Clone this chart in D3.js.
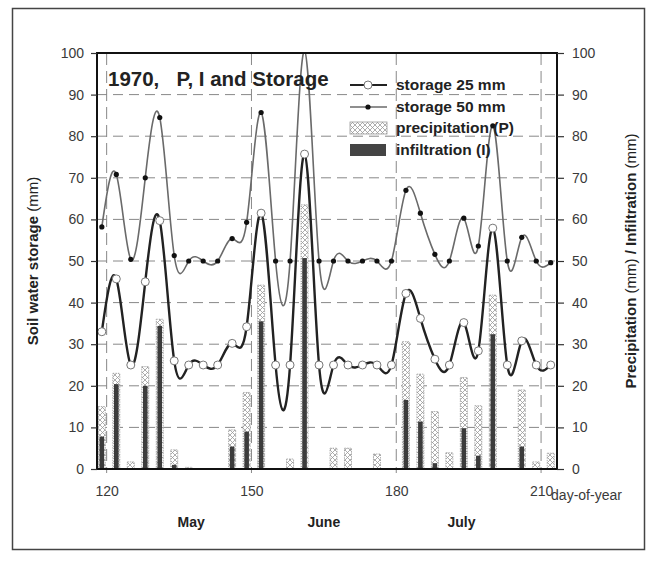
<!DOCTYPE html>
<html>
<head>
<meta charset="utf-8">
<script src="https://cdn.jsdelivr.net/npm/d3@7"></script>
<style>
  html, body { margin: 0; padding: 0; background: #fff; }
  svg { display: block; font-family: "Liberation Sans", Arial, Helvetica, sans-serif; }
</style>
</head>
<body>
<svg id="chart" width="653" height="563"></svg>
<script>
// Day-of-year sampling of the soil water storage runs (every third day)
const days = [119, 122, 125, 128, 131, 134, 137, 140, 143, 146, 149, 152, 155, 158, 161, 164,
              167, 170, 173, 176, 179, 182, 185, 188, 191, 194, 197, 200, 203, 206, 209, 212];
// Soil water storage (mm) for a 25 mm and a 50 mm storage capacity
const storage25 = [33, 45.7, 25, 45, 59.7, 26, 25, 25, 25, 30.2, 34.2, 61.5, 25, 25, 75.7, 25,
                   25, 25, 25, 25, 25, 42.2, 36.2, 26.4, 25, 35.2, 28.4, 57.9, 25, 30.8, 25, 25];
const storage50 = [58.2, 70.8, 50.4, 70, 84.5, 51.3, 50, 50, 50, 55.4, 59.3, 85.7, 50, 50, 100.5, 50,
                   50, 50, 50, 50, 50, 67, 61.5, 51.6, 50, 60.3, 53.6, 82.5, 50, 55.7, 50, 49.6];
// Three-day precipitation and infiltration totals (mm)
const rainDays = [119, 122, 125, 128, 131, 134, 137, 146, 149, 152, 158, 161, 167, 170, 176,
                  182, 185, 188, 191, 194, 197, 200, 206, 209, 212];
const precipitation = [15, 23, 1.7, 24.6, 36, 4.6, 0.4, 9.4, 18.4, 44.2, 2.4, 63.5, 5, 5, 3.6,
                       30.6, 22.8, 13.8, 3.9, 22, 15.2, 41.8, 19, 1.7, 3.8];
const infiltration = [7.8, 20.4, 0, 20, 34.4, 1, 0, 5.4, 9, 35.5, 0, 50.7, 0, 0, 0,
                      16.6, 11.4, 1.4, 0, 9.8, 3.2, 32.4, 5.4, 0, 0];
// Axis ticks and month labels
const dayTicks = [120, 150, 180, 210];
const valueTicks = [0, 10, 20, 30, 40, 50, 60, 70, 80, 90, 100];
const months = ["May", "June", "July"];
const monthDays = [137.5, 165, 193.5];
const legendLabels = ["storage 25 mm", "storage 50 mm", "precipitation (P)", "infiltration (I)"];

const svg = d3.select("#chart");
const plotL = 97, plotR = 557, plotT = 53, plotB = 469;

const x = d3.scaleLinear().domain([118, 213.3]).range([plotL, plotR]);
const y = d3.scaleLinear().domain([0, 100]).range([plotB, plotT]);

const defs = svg.append("defs");
defs.append("clipPath").attr("id", "plotClip")
  .append("rect").attr("x", plotL).attr("y", plotT).attr("width", plotR - plotL).attr("height", plotB - plotT);

// Cross-hatch fill for the precipitation columns
const pat = defs.append("pattern").attr("id", "hatch")
  .attr("patternUnits", "userSpaceOnUse").attr("width", 5).attr("height", 5);
pat.append("rect").attr("width", 5).attr("height", 5).attr("fill", "#fff");
pat.append("path").attr("d", "M0,0L5,5M5,0L0,5").attr("stroke", "#999").attr("stroke-width", 0.8);

// Outer frame
svg.append("rect").attr("x", 12.5).attr("y", 8.5).attr("width", 632).attr("height", 541)
  .attr("fill", "none").attr("stroke", "#444").attr("stroke-width", 1.5);

// Grid
const grid = svg.append("g");
grid.selectAll("line.h").data(valueTicks.filter(v => v > 0 && v < 100)).join("line")
  .attr("x1", plotL).attr("x2", plotR).attr("y1", d => y(d)).attr("y2", d => y(d))
  .attr("stroke", "#888").attr("stroke-width", 1).attr("stroke-dasharray", "10,6");
grid.selectAll("line.v").data(dayTicks).join("line")
  .attr("x1", d => x(d)).attr("x2", d => x(d)).attr("y1", plotT).attr("y2", plotB + 4)
  .attr("stroke", "#888").attr("stroke-width", 1).attr("stroke-dasharray", "12,6");

// Columns
const bars = svg.append("g").attr("clip-path", "url(#plotClip)");
bars.selectAll("rect.p").data(rainDays).join("rect")
  .attr("x", d => x(d) - 3.5).attr("width", 7)
  .attr("y", (d, i) => y(precipitation[i]))
  .attr("height", (d, i) => y(0) - y(precipitation[i]))
  .attr("fill", "url(#hatch)").attr("stroke", "#999").attr("stroke-width", 0.8)
  .attr("stroke-dasharray", "1.5,1");
bars.selectAll("rect.i").data(rainDays).join("rect")
  .attr("x", d => x(d) - 2.3).attr("width", 4.6)
  .attr("y", (d, i) => y(infiltration[i]))
  .attr("height", (d, i) => y(0) - y(infiltration[i]))
  .attr("fill", "#3c3c3c");

// Storage curves
const line = d3.line().curve(d3.curveNatural).x((d, i) => x(days[i])).y(d => y(d));
const curves = svg.append("g").attr("clip-path", "url(#plotClip)");
curves.append("path").datum(storage50).attr("d", line)
  .attr("fill", "none").attr("stroke", "#6a6a6a").attr("stroke-width", 1.6);
curves.append("path").datum(storage25).attr("d", line)
  .attr("fill", "none").attr("stroke", "#222").attr("stroke-width", 2.4);
curves.selectAll("circle.s50").data(storage50).join("circle")
  .attr("cx", (d, i) => x(days[i])).attr("cy", d => y(d)).attr("r", 2.6).attr("fill", "#111");
curves.selectAll("circle.s25").data(storage25).join("circle")
  .attr("cx", (d, i) => x(days[i])).attr("cy", d => y(d)).attr("r", 4)
  .attr("fill", "#fff").attr("stroke", "#777").attr("stroke-width", 1);

// Plot border
svg.append("rect").attr("x", plotL).attr("y", plotT).attr("width", plotR - plotL).attr("height", plotB - plotT)
  .attr("fill", "none").attr("stroke", "#111").attr("stroke-width", 2);

// Axes
const styleAxis = g => {
  g.select(".domain").remove();
  g.selectAll(".tick line").attr("stroke", "#333").attr("stroke-width", 1.2);
  g.selectAll(".tick text").attr("fill", "#3a3a3a").attr("font-size", 14)
    .attr("font-family", "'Liberation Sans', Arial, sans-serif");
};
svg.append("g").attr("transform", `translate(${plotL},0)`)
  .call(d3.axisLeft(y).tickValues(valueTicks).tickSize(6).tickPadding(7)).call(styleAxis);
svg.append("g").attr("transform", `translate(${plotR},0)`)
  .call(d3.axisRight(y).tickValues(valueTicks).tickSize(7).tickPadding(8)).call(styleAxis);
svg.append("g").attr("transform", `translate(0,${plotB})`)
  .call(d3.axisBottom(x).tickValues(dayTicks).tickSize(0).tickPadding(17)).call(styleAxis);

svg.append("text").attr("x", x(210) + 10).attr("y", plotB + 31)
  .attr("font-size", 14).attr("fill", "#3a3a3a").text("day-of-year");

svg.selectAll("text.month").data(months).join("text")
  .attr("x", (d, i) => x(monthDays[i])).attr("y", 527).attr("text-anchor", "middle")
  .attr("font-size", 14).attr("font-weight", "bold").attr("fill", "#222").text(d => d);

// Axis titles
const lt = svg.append("text").attr("transform", "translate(38,261) rotate(-90)")
  .attr("text-anchor", "middle").attr("font-size", 15).attr("fill", "#222");
lt.append("tspan").attr("font-weight", "bold").text("Soil water storage ");
lt.append("tspan").text("(mm)");

const rt = svg.append("text").attr("transform", "translate(636,261) rotate(-90)")
  .attr("text-anchor", "middle").attr("font-size", 15).attr("fill", "#222");
rt.append("tspan").attr("font-weight", "bold").text("Precipitation ");
rt.append("tspan").text("(mm)");
rt.append("tspan").attr("font-weight", "bold").text(" / Infiltration ");
rt.append("tspan").text("(mm)");

// Title
svg.append("text").attr("x", 108).attr("y", 86).attr("font-size", 20.5).attr("font-weight", "bold")
  .attr("fill", "#222").style("white-space", "pre").text("1970,   P, I and Storage");

// Legend
const lg = svg.append("g");
const rowY = [85, 107, 128, 150];
lg.append("line").attr("x1", 350).attr("x2", 387).attr("y1", rowY[0]).attr("y2", rowY[0])
  .attr("stroke", "#222").attr("stroke-width", 2);
lg.append("circle").attr("cx", 368).attr("cy", rowY[0]).attr("r", 4)
  .attr("fill", "#fff").attr("stroke", "#777");
lg.append("line").attr("x1", 350).attr("x2", 387).attr("y1", rowY[1]).attr("y2", rowY[1])
  .attr("stroke", "#6a6a6a").attr("stroke-width", 1.6);
lg.append("circle").attr("cx", 368).attr("cy", rowY[1]).attr("r", 2.6).attr("fill", "#111");
lg.append("rect").attr("x", 350).attr("y", rowY[2] - 6).attr("width", 37).attr("height", 12)
  .attr("fill", "url(#hatch)").attr("stroke", "#999").attr("stroke-width", 0.8);
lg.append("rect").attr("x", 350).attr("y", rowY[3] - 6).attr("width", 36).attr("height", 12)
  .attr("fill", "#444");
lg.selectAll("text").data(legendLabels).join("text")
  .attr("x", 396).attr("y", (d, i) => rowY[i] + 5).attr("font-size", 15.5).attr("font-weight", "bold")
  .attr("fill", "#222").text(d => d);
</script>
</body>
</html>
